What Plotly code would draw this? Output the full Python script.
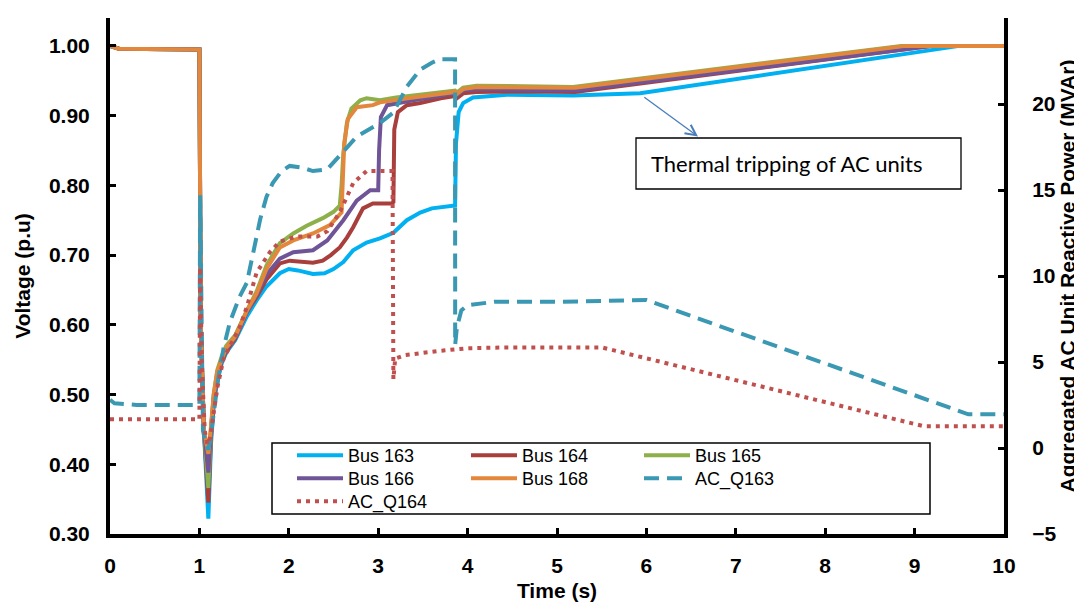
import plotly.graph_objects as go

# ---------------- data ----------------
t_bus163 = [0, 0.1, 1.0, 1.015, 1.05, 1.1, 1.13, 1.16, 1.2, 1.25, 1.3, 1.4, 1.53, 1.64, 1.75, 1.9, 2.0, 2.1,
            2.27, 2.4, 2.5, 2.61, 2.72, 2.87, 3.02, 3.17, 3.32, 3.47, 3.6, 3.7, 3.86, 3.87, 3.9, 3.95, 4.06,
            4.44, 5.18, 5.93, 9.5, 10]
v_bus163 = [1.0, 0.996, 0.995, 0.60, 0.45, 0.322, 0.43, 0.485, 0.52, 0.545, 0.56, 0.578, 0.612, 0.635, 0.655,
            0.674, 0.680, 0.678, 0.673, 0.674, 0.680, 0.690, 0.707, 0.718, 0.724, 0.732, 0.750, 0.761, 0.767,
            0.769, 0.771, 0.86, 0.905, 0.918, 0.926, 0.930, 0.929, 0.932, 1.0, 1.0]

t_bus164 = [0, 0.1, 1.0, 1.015, 1.05, 1.1, 1.13, 1.16, 1.2, 1.25, 1.3, 1.4, 1.53, 1.64, 1.75, 1.9, 2.01, 2.15,
            2.27, 2.38, 2.47, 2.57, 2.65, 2.72, 2.83, 2.94, 3.15, 3.17, 3.18, 3.22, 3.32, 3.47, 3.7, 3.86,
            3.88, 3.95, 4.1, 4.7, 5.2, 9.2, 10]
v_bus164 = [1.0, 0.996, 0.995, 0.60, 0.45, 0.345, 0.44, 0.49, 0.525, 0.548, 0.562, 0.58, 0.618, 0.64, 0.665,
            0.688, 0.692, 0.690, 0.689, 0.692, 0.700, 0.711, 0.725, 0.740, 0.767, 0.774, 0.774, 0.776, 0.88,
            0.905, 0.915, 0.918, 0.925, 0.928, 0.925, 0.932, 0.934, 0.935, 0.934, 1.0, 1.0]

t_bus165 = [0, 0.1, 1.0, 1.015, 1.05, 1.1, 1.13, 1.16, 1.2, 1.25, 1.3, 1.4, 1.53, 1.64, 1.75, 1.9, 2.05, 2.2,
            2.38, 2.5, 2.57, 2.59, 2.61, 2.65, 2.7, 2.8, 2.87, 2.95, 3.02, 3.2, 3.39, 3.6, 3.86, 3.88, 3.95,
            4.1, 4.44, 5.18, 8.85, 10]
v_bus165 = [1.0, 0.996, 0.995, 0.60, 0.45, 0.366, 0.45, 0.50, 0.535, 0.555, 0.57, 0.585, 0.62, 0.648, 0.685,
            0.717, 0.731, 0.742, 0.753, 0.762, 0.771, 0.80, 0.846, 0.89, 0.91, 0.922, 0.925, 0.924, 0.922,
            0.926, 0.929, 0.932, 0.936, 0.933, 0.940, 0.943, 0.942, 0.941, 1.0, 1.0]

t_bus166 = [0, 0.1, 1.0, 1.015, 1.05, 1.1, 1.13, 1.16, 1.2, 1.25, 1.3, 1.4, 1.53, 1.64, 1.75, 1.9, 2.05, 2.27,
            2.43, 2.52, 2.61, 2.76, 2.91, 3.0, 3.01, 3.03, 3.1, 3.39, 3.86, 3.88, 3.95, 4.1, 5.2, 9.2, 10]
v_bus166 = [1.0, 0.996, 0.995, 0.60, 0.45, 0.388, 0.45, 0.495, 0.528, 0.55, 0.565, 0.582, 0.618, 0.643, 0.672,
            0.695, 0.704, 0.707, 0.721, 0.735, 0.750, 0.778, 0.793, 0.793, 0.85, 0.898, 0.915, 0.922, 0.932,
            0.929, 0.936, 0.938, 0.936, 1.0, 1.0]

t_bus168 = [0, 0.1, 1.0, 1.015, 1.05, 1.1, 1.13, 1.16, 1.2, 1.25, 1.3, 1.4, 1.53, 1.64, 1.75, 1.9, 2.05, 2.27,
            2.46, 2.59, 2.6, 2.62, 2.66, 2.76, 2.94, 3.02, 3.39, 3.86, 3.88, 3.95, 4.1, 5.2, 8.9, 10]
v_bus168 = [1.0, 0.996, 0.995, 0.60, 0.45, 0.415, 0.455, 0.50, 0.533, 0.552, 0.567, 0.583, 0.62, 0.645, 0.68,
            0.711, 0.721, 0.731, 0.743, 0.761, 0.80, 0.86, 0.895, 0.912, 0.915, 0.919, 0.926, 0.934, 0.931,
            0.938, 0.941, 0.940, 1.0, 1.0]

t_q163 = [0, 0.05, 0.3, 1.0, 1.008, 1.02, 1.04, 1.07, 1.1, 1.13, 1.17, 1.21, 1.27, 1.34, 1.45, 1.53, 1.6,
          1.68, 1.75, 1.82, 1.92, 2.01, 2.15, 2.27, 2.43, 2.61, 2.76, 3.02, 3.17, 3.32, 3.47, 3.6, 3.69, 3.86,
          3.861, 3.88, 3.93, 4.0, 4.3, 5.0, 6.0, 9.6, 10]
q_ac163 = [2.8, 2.6, 2.5, 2.5, 14.7, 8.0, 1.0, 0.3, -0.1, 0.8, 2.5, 4.0, 5.8, 7.3, 8.8, 9.6, 11.3, 13.3, 14.6,
           15.4, 16.1, 16.4, 16.3, 16.1, 16.2, 17.2, 18.1, 18.9, 19.5, 21.0, 22.0, 22.4, 22.6, 22.6, 6.0, 7.0,
           8.0, 8.3, 8.5, 8.5, 8.6, 1.96, 1.96]

t_q164 = [0, 1.0, 1.008, 1.03, 1.06, 1.09, 1.12, 1.16, 1.2, 1.27, 1.34, 1.45, 1.53, 1.64, 1.79, 1.9, 2.09,
          2.32, 2.43, 2.57, 2.72, 2.87, 3.0, 3.16, 3.17, 3.19, 3.3, 3.5, 3.69, 4.0, 4.44, 5.5, 9.1, 10]
q_ac164 = [1.67, 1.67, 10.5, 4.5, 1.0, 0.2, 0.6, 2.0, 3.5, 5.2, 5.9, 7.0, 8.2, 10.2, 11.4, 12.0, 12.3, 12.3,
           12.6, 13.7, 15.4, 16.1, 16.1, 16.1, 4.0, 5.2, 5.4, 5.55, 5.65, 5.8, 5.85, 5.85, 1.27, 1.27]

x_ticks = [0, 1, 2, 3, 4, 5, 6, 7, 8, 9, 10]
v_ticks = [0.3, 0.4, 0.5, 0.6, 0.7, 0.8, 0.9, 1.0]
q_ticks = [-5, 0, 5, 10, 15, 20, 25]

# ---------------- layout geometry (page pixels; the page body has an 8px margin) ----------------
OFF = 8
W, H = 1082 - OFF, 608 - OFF
PLOT_L, PLOT_R, PLOT_T, PLOT_B = 110, 1004, 18, 534          # plot area in page pixels
L, T = PLOT_L - OFF, PLOT_T - OFF
R, B = W - (PLOT_R - OFF), H - (PLOT_B - OFF)
PW, PH = PLOT_R - PLOT_L, PLOT_B - PLOT_T


def px(xp):
    return (xp - PLOT_L) / PW


def py(yp):
    return (PLOT_B - yp) / PH


FONT = "Liberation Sans, Arial, sans-serif"

fig = go.Figure()

# (name, t, v, colour, legend column x of line start, legend row centre y)
bus_series = [
    ("Bus 163", t_bus163, v_bus163, "#00b0f0", 292, 455),
    ("Bus 164", t_bus164, v_bus164, "#a83f3c", 466, 455),
    ("Bus 165", t_bus165, v_bus165, "#8db04a", 639, 455),
    ("Bus 166", t_bus166, v_bus166, "#6f5597", 292, 478),
    ("Bus 168", t_bus168, v_bus168, "#e2873b", 466, 478),
]

legend_layouts = {}
leg_common = dict(bgcolor="rgba(0,0,0,0)", borderwidth=0, orientation="v",
                  font=dict(family=FONT, size=18, color="black"), itemwidth=46,
                  xanchor="left", yanchor="top")

for i, (name, tt, vv, col, lx, ly) in enumerate(bus_series):
    key = "legend" if i == 0 else f"legend{i + 1}"
    legend_layouts[key] = dict(x=px(lx), y=py(ly - 18), **leg_common)
    fig.add_trace(go.Scatter(x=tt, y=vv, name=name, mode="lines",
                             line=dict(color=col, width=4), legend=key))

legend_layouts["legend6"] = dict(x=px(639), y=py(478 - 18), **leg_common)
fig.add_trace(go.Scatter(x=t_q163, y=q_ac163, name="AC_Q163", mode="lines", yaxis="y2",
                         line=dict(color="#3b98b2", width=4, dash="15px,8px"), legend="legend6"))
legend_layouts["legend7"] = dict(x=px(292), y=py(501 - 18), **leg_common)
fig.add_trace(go.Scatter(x=t_q164, y=q_ac164, name="AC_Q164", mode="lines", yaxis="y2",
                         line=dict(color="#c0504d", width=4, dash="4px,5px"), legend="legend7"))

tickfont = dict(family=FONT, size=21, color="black", weight="bold")
titlefont = dict(family=FONT, size=21, color="black", weight="bold")
axis_common = dict(showgrid=False, zeroline=False, showline=True, linecolor="black", linewidth=4,
                   ticks="inside", ticklen=6, tickwidth=3, tickcolor="black", tickfont=tickfont)

fig.update_layout(
    width=W, height=H,
    margin=dict(l=L, r=R, t=T, b=B, autoexpand=False),
    paper_bgcolor="white", plot_bgcolor="white",
    xaxis=dict(range=[0, 10], tickvals=x_ticks, ticktext=[str(v) for v in x_ticks],
               title=dict(text="Time (s)", font=titlefont, standoff=8), ticklabelstandoff=10,
               **axis_common),
    yaxis=dict(range=[0.3, 1.04], tickvals=v_ticks, tickformat=".2f",
               title=dict(text="Voltage (p.u)", font=titlefont, standoff=14), ticklabelstandoff=12,
               **axis_common),
    yaxis2=dict(range=[-5, 25], tickvals=q_ticks, overlaying="y", side="right",
                title=dict(text="Aggregated AC Unit Reactive Power (MVAr)", font=titlefont, standoff=2),
                ticklabelstandoff=20, **axis_common),
    showlegend=True,
    **legend_layouts,
)

# legend frame and annotation box
fig.add_shape(type="rect", xref="paper", yref="paper", x0=px(272), x1=px(930), y0=py(514), y1=py(443),
              line=dict(color="black", width=1.5), fillcolor="white", layer="above")
fig.add_shape(type="rect", xref="paper", yref="paper", x0=px(636), x1=px(961), y0=py(189), y1=py(138),
              line=dict(color="black", width=1.3), fillcolor="white", layer="above")
fig.add_annotation(xref="paper", yref="paper", x=px(786.5), y=py(163), text="Thermal tripping of AC units",
                   showarrow=False, font=dict(family="Lato, Carlito, sans-serif", size=22, color="black"),
                   xanchor="center", yanchor="middle")
fig.add_annotation(xref="x", yref="y", x=6.577, y=0.870, axref="x", ayref="y", ax=5.96, ay=0.928,
                   text="", showarrow=True, arrowhead=5, arrowsize=1.6, arrowwidth=1.3,
                   arrowcolor="#4a7ebb", standoff=0, startstandoff=0)

fig.write_html("out.html")
